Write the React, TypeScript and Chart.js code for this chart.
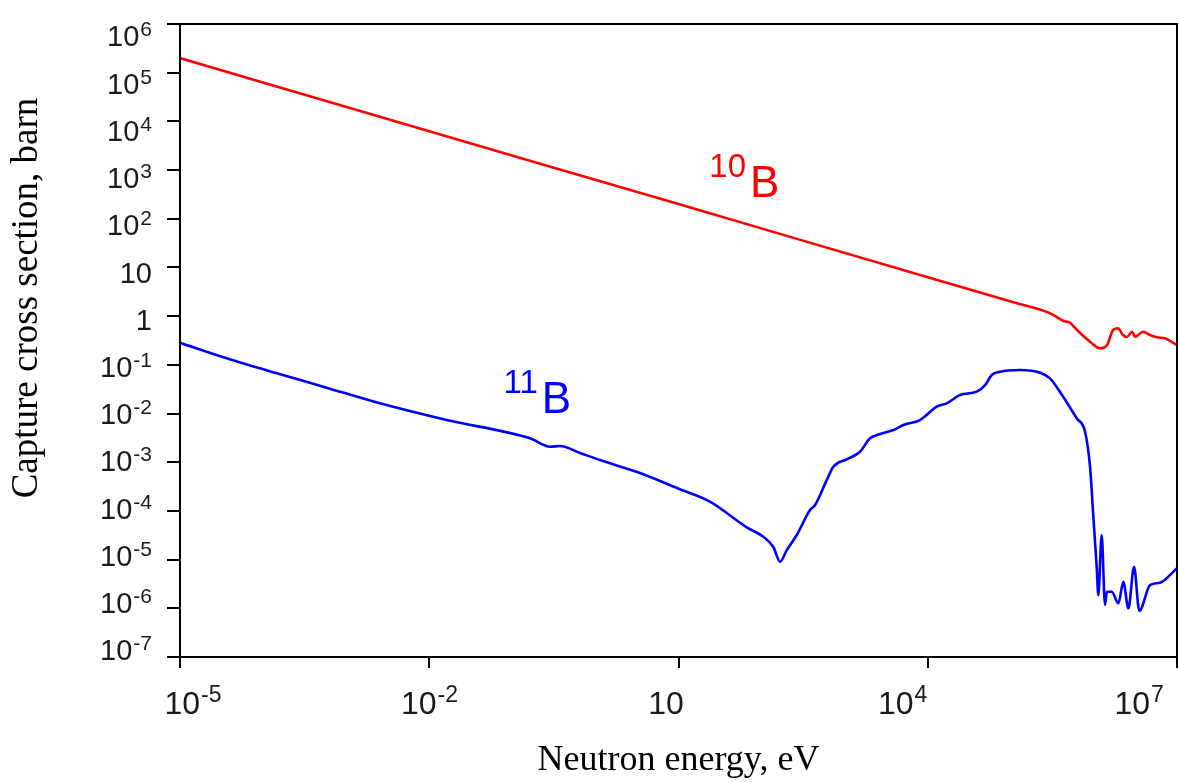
import React, { useEffect, useRef } from "react";
import { Chart, registerables } from "chart.js";

Chart.register(...registerables);

// ---- data ----
const B10_ENERGY = [
  1e-5, 1e-2, 10, 1e4, 1e5, 2.97e5, 4.25e5, 5.16e5, 6.27e5, 8.98e5, 1.19e6,
  1.44e6, 1.7e6, 1.95e6, 2.24e6, 2.5e6, 2.88e6, 3.13e6, 3.4e6, 3.9e6, 4.74e6,
  5.75e6, 7.18e6, 8.95e6, 1e7,
];
const B10_SIGMA = [
  2.0e5, 6300, 200, 6.3, 2.0, 1.15, 0.805, 0.733, 0.519, 0.299, 0.218, 0.255,
  0.519, 0.562, 0.41, 0.373, 0.479, 0.378, 0.41, 0.479, 0.41, 0.367, 0.35,
  0.285, 0.255,
];

const B11_ENERGY = [
  1e-5, 3.65e-5, 1.46e-4, 5.31e-4, 2.55e-3, 0.0162, 0.163, 0.284, 0.375, 0.653,
  1.135, 3.44, 10.4, 23.9, 66.2, 105, 138, 167, 201, 265, 383, 440, 608, 731,
  1059, 1531, 2019, 2666, 3855, 5082, 8075, 12830, 16900, 24480, 38900, 48980,
  58900, 74200, 1.29e5, 2.25e5, 2.96e5, 4.13e5, 6.21e5, 7.82e5, 8.98e5,
  9.84e5, 1.08e6, 1.13e6, 1.24e6, 1.36e6, 1.43e6, 1.64e6, 1.97e6, 2.26e6,
  2.6e6, 3.04e6, 3.52e6, 4.74e6, 6.25e6, 9.93e6,
];
const B11_SIGMA = [
  0.284, 0.136, 0.067, 0.0356, 0.0162, 7.36e-3, 3.1e-3, 2.08e-3, 2.15e-3,
  1.55e-3, 1.11e-3, 6.0e-4, 2.78e-4, 1.55e-4, 4.6e-5, 2.95e-5, 1.84e-5,
  9.05e-6, 1.57e-5, 3.2e-5, 1.04e-4, 1.32e-4, 4.3e-4, 8.1e-4, 1.15e-3,
  1.64e-3, 3.1e-3, 3.79e-3, 4.59e-3, 5.81e-3, 7.36e-3, 0.0138, 0.0162, 0.024,
  0.0281, 0.0385, 0.0618, 0.0723, 0.0783, 0.0689, 0.0529, 0.024, 7.98e-3,
  4.23e-3, 8.1e-4, 7.6e-5, 7.1e-6, 1.87e-6, 3.2e-5, 1.17e-6, 2.19e-6,
  2.19e-6, 1.26e-6, 3.5e-6, 1.0e-6, 7.1e-6, 8.9e-7, 3.0e-6, 3.35e-6, 6.6e-6,
];

const X_TICKS = [1e-5, 1e-2, 10, 1e4, 1e7];
const X_TICK_BASE = ["10", "10", "10", "10", "10"];
const X_TICK_EXP = ["-5", "-2", "", "4", "7"];
const Y_TICKS = [1e-7, 1e-6, 1e-5, 1e-4, 1e-3, 1e-2, 1e-1, 1, 10, 1e2, 1e3, 1e4, 1e5, 1e6];
const Y_TICK_BASE = ["10", "10", "10", "10", "10", "10", "10", "1", "10", "10", "10", "10", "10", "10"];
const Y_TICK_EXP = ["-7", "-6", "-5", "-4", "-3", "-2", "-1", "", "", "2", "3", "4", "5", "6"];

const X_TITLE = "Neutron energy, eV";
const Y_TITLE = "Capture cross section, barn";

// isotope labels, anchored in data coordinates
const ISO_MASS = ["10", "11"];
const ISO_SYMBOL = ["B", "B"];
const ISO_ENERGY = [72.6, 0.226];
const ISO_SIGMA = [280, 0.0104];
const ISO_COLOR = ["#ff0000", "#0000ff"];

const SANS = '"Liberation Sans", Arial, sans-serif';
const SERIF = '"Liberation Serif", "Times New Roman", serif';

function drawPowerLabel(
  ctx: CanvasRenderingContext2D,
  base: string,
  exp: string,
  align: "right" | "center",
  x: number,
  y: number,
  baseSize: number,
  expSize: number,
  raise: number
) {
  ctx.font = `${baseSize}px ${SANS}`;
  const wb = ctx.measureText(base).width;
  ctx.font = `${expSize}px ${SANS}`;
  const gap = exp ? 1 : 0;
  const we = exp ? ctx.measureText(exp).width : 0;
  const total = wb + gap + we;
  const start = align === "right" ? x - total : x - total / 2;
  ctx.textAlign = "left";
  ctx.textBaseline = "alphabetic";
  ctx.font = `${baseSize}px ${SANS}`;
  ctx.fillText(base, start, y);
  if (exp) {
    ctx.font = `${expSize}px ${SANS}`;
    ctx.fillText(exp, start + wb + gap, y - raise);
  }
}

const framePlugin = {
  id: "frame",
  afterDraw(chart: any) {
    const { ctx, chartArea: a, scales } = chart;
    ctx.save();
    ctx.strokeStyle = "#000";
    ctx.lineWidth = 2;
    ctx.strokeRect(a.left, a.top, a.right - a.left, a.bottom - a.top);

    // tick labels (power-of-ten notation)
    ctx.fillStyle = "#1a1a1a";
    const yBase = 29;
    Y_TICKS.forEach((v, i) => {
      const py = scales.y.getPixelForValue(v);
      const cy = a.top + 12 + (py - a.top) * 0.97;
      drawPowerLabel(ctx, Y_TICK_BASE[i], Y_TICK_EXP[i], "right", a.left - 28, cy + 0.358 * yBase, yBase, 21, 10);
    });
    X_TICKS.forEach((v, i) => {
      const px = scales.x.getPixelForValue(v);
      const cx = a.left + 13 + (px - a.left) * 0.949;
      drawPowerLabel(ctx, X_TICK_BASE[i], X_TICK_EXP[i], "center", cx, a.bottom + 57, 32, 23, 12);
    });

    // y axis title
    ctx.fillStyle = "#000";
    ctx.font = `37px ${SERIF}`;
    ctx.textAlign = "center";
    ctx.textBaseline = "alphabetic";
    ctx.translate(37, 298);
    ctx.rotate(-Math.PI / 2);
    ctx.fillText(Y_TITLE, 0, 0);
    ctx.restore();
  },
};

const isoPlugin = {
  id: "isoLabels",
  afterDatasetsDraw(chart: any) {
    const { ctx, scales } = chart;
    ctx.save();
    for (let i = 0; i < ISO_MASS.length; i++) {
      const x = scales.x.getPixelForValue(ISO_ENERGY[i]);
      const y = scales.y.getPixelForValue(ISO_SIGMA[i]);
      ctx.fillStyle = ISO_COLOR[i];
      ctx.textBaseline = "alphabetic";
      ctx.font = `44px ${SANS}`;
      ctx.textAlign = "left";
      ctx.fillText(ISO_SYMBOL[i], x, y);
      ctx.font = `33px ${SANS}`;
      ctx.textAlign = "right";
      ctx.fillText(ISO_MASS[i], x - 4, y - 20);
    }
    ctx.restore();
  },
};

export default function App() {
  const ref = useRef<HTMLCanvasElement>(null);
  useEffect(() => {
    const canvas = ref.current!;
    const chart = new Chart(canvas, {
      type: "line",
      data: {
        datasets: [
          {
            label: "10B",
            data: B10_ENERGY.map((e, i) => ({ x: e, y: B10_SIGMA[i] })),
            borderColor: "#ff0000",
            borderWidth: 2.6,
            pointRadius: 0,
            cubicInterpolationMode: "monotone",
            fill: false,
          },
          {
            label: "11B",
            data: B11_ENERGY.map((e, i) => ({ x: e, y: B11_SIGMA[i] })),
            borderColor: "#0000ff",
            borderWidth: 2.6,
            pointRadius: 0,
            cubicInterpolationMode: "monotone",
            fill: false,
          },
        ],
      },
      options: {
        responsive: false,
        animation: false,
        devicePixelRatio: 1,
        layout: { padding: { top: 24, right: 2, left: 0, bottom: 0 } },
        plugins: { legend: { display: false }, tooltip: { enabled: false } },
        scales: {
          x: {
            type: "logarithmic",
            position: "bottom",
            min: 1e-5,
            max: 1e7,
            afterBuildTicks: (s: any) => {
              s.ticks = X_TICKS.map((v) => ({ value: v }));
            },
            afterFit: (s: any) => {
              s.height = 125;
              s.paddingLeft = 0;
              s.paddingRight = 0;
            },
            ticks: { display: false, autoSkip: false, maxRotation: 0, minRotation: 0 },
            grid: {
              drawOnChartArea: false,
              drawTicks: true,
              tickLength: 11,
              tickWidth: 2,
              tickColor: "#000",
              color: "#000",
              lineWidth: 2,
            },
            border: { display: true, color: "#000", width: 2 },
            title: {
              display: true,
              text: X_TITLE,
              color: "#000",
              font: { family: "Liberation Serif", size: 36 },
              padding: 0,
            },
          },
          y: {
            type: "logarithmic",
            position: "left",
            min: 1e-7,
            max: 1e6,
            afterBuildTicks: (s: any) => {
              s.ticks = Y_TICKS.map((v) => ({ value: v }));
            },
            afterFit: (s: any) => {
              s.width = 180;
              s.paddingTop = 0;
              s.paddingBottom = 0;
            },
            ticks: { display: false, autoSkip: false },
            grid: {
              drawOnChartArea: false,
              drawTicks: true,
              tickLength: 13,
              tickWidth: 2,
              tickColor: "#000",
              color: "#000",
              lineWidth: 2,
            },
            border: { display: true, color: "#000", width: 2 },
            title: { display: false },
          },
        },
      },
      plugins: [framePlugin, isoPlugin],
    } as any);
    return () => chart.destroy();
  }, []);
  return (
    <div style={{ position: "absolute", left: 0, top: 0, width: 1179, height: 782, background: "#fff" }}>
      <canvas ref={ref} width={1179} height={782} style={{ display: "block" }} />
    </div>
  );
}
